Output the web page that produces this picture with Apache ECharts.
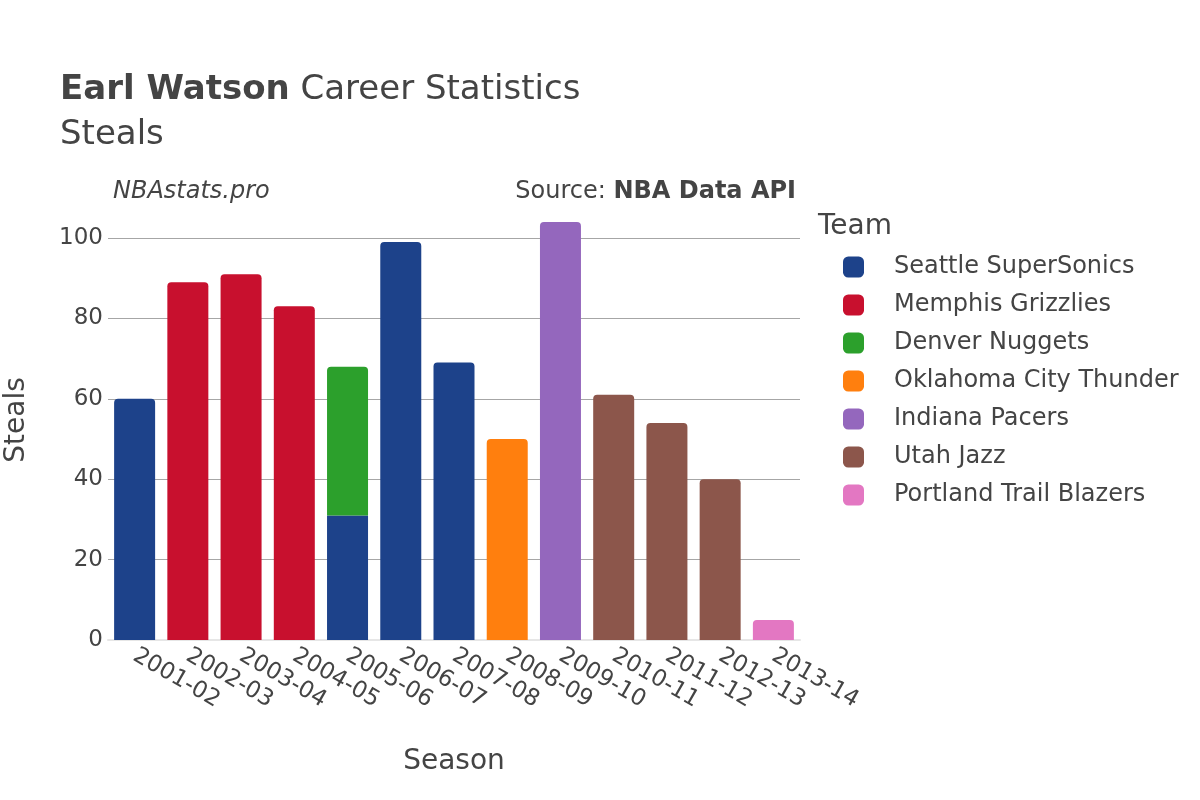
<!DOCTYPE html>
<html>
<head>
<meta charset="utf-8">
<script src="https://cdn.jsdelivr.net/npm/echarts@6/dist/echarts.min.js"></script>
<style>html,body{margin:0;padding:0;background:#fff}#c{width:1200px;height:800px}</style>
</head>
<body>
<div id="c"></div>
<script>
var seasons = ['2001-02','2002-03','2003-04','2004-05','2005-06','2006-07','2007-08','2008-09','2009-10','2010-11','2011-12','2012-13','2013-14'];
var teams = ['Seattle SuperSonics','Memphis Grizzlies','Denver Nuggets','Oklahoma City Thunder','Indiana Pacers','Utah Jazz','Portland Trail Blazers'];
var teamColors = ['#1d428a','#c8102e','#2ca02c','#ff7f0e','#9467bd','#8c564b','#e377c2'];
var seattle  = [60, null, null, null, 31, 99, 69, null, null, null, null, null, null];
var memphis  = [null, 89, 91, 83, null, null, null, null, null, null, null, null, null];
var denver   = [null, null, null, null, 37, null, null, null, null, null, null, null, null];
var okc      = [null, null, null, null, null, null, null, 50, null, null, null, null, null];
var indiana  = [null, null, null, null, null, null, null, null, 104, null, null, null, null];
var utah     = [null, null, null, null, null, null, null, null, null, 61, 54, 40, null];
var portland = [null, null, null, null, null, null, null, null, null, null, null, null, 5];
var yTicks = [0, 20, 40, 60, 80, 100];

var seriesData = [seattle, memphis, denver, okc, indiana, utah, portland];
var FONT = 'DejaVu Sans';

var topIdx = seasons.map(function(_, i){
  var t = -1;
  seriesData.forEach(function(arr, s){ if (arr[i] != null) t = s; });
  return t;
});

var series = teams.map(function(name, s){
  return {
    name: name,
    type: 'bar',
    stack: 'total',
    barWidth: 41,
    clip: false,
    itemStyle: { color: teamColors[s] },
    data: seriesData[s].map(function(v, i){
      if (v == null) return null;
      return { value: v, itemStyle: { borderRadius: topIdx[i] === s ? [4,4,0,0] : 0 } };
    })
  };
});

var chart = echarts.init(document.getElementById('c'));
chart.setOption({
  animation: false,
  textStyle: { fontFamily: FONT },
  grid: { left: 108, right: 400, top: 238, bottom: 160, containLabel: false },
  xAxis: {
    type: 'category',
    data: seasons,
    axisLine: { show: true, lineStyle: { color: '#e6e6e6', width: 2 } },
    axisTick: { show: false },
    axisLabel: { rotate: -30, fontSize: 23, color: '#444', fontFamily: FONT, margin: 14, interval: 0 },
    name: 'Season',
    nameLocation: 'middle',
    nameGap: 108,
    nameTextStyle: { fontSize: 28, color: '#444', fontFamily: FONT }
  },
  yAxis: {
    type: 'value',
    min: yTicks[0],
    max: yTicks[yTicks.length - 1],
    interval: 20,
    axisLine: { show: false },
    axisTick: { show: false },
    splitLine: { lineStyle: { color: '#a6a6a6', width: 1 } },
    axisLabel: { fontSize: 23, color: '#444', fontFamily: FONT, margin: 5 }
  },
  legend: {
    orient: 'vertical',
    left: 843,
    top: 255,
    padding: 0,
    itemWidth: 21,
    itemHeight: 21,
    itemGap: 14,
    icon: 'roundRect',
    data: teams,
    textStyle: { fontSize: 24, lineHeight: 24, color: '#444', fontFamily: FONT, padding: [0,0,0,25] }
  },
  graphic: [
    { type: 'text', left: 60, top: 73, style: { text: '{b|Earl Watson} Career Statistics', font: '34px "DejaVu Sans"', fill: '#444',
      rich: { b: { fontWeight: 'bold', fontSize: 34, fontFamily: FONT, fill: '#444' } } } },
    { type: 'text', left: 60, top: 118, style: { text: 'Steals', font: '34px "DejaVu Sans"', fill: '#444' } },
    { type: 'text', left: 113, top: 180, style: { text: 'NBAstats.pro', font: 'italic 24px "DejaVu Sans"', fill: '#444' } },
    { type: 'text', right: 404, top: 180, style: { text: 'Source: {b|NBA Data API}', font: '24px "DejaVu Sans"', fill: '#444',
      rich: { b: { fontWeight: 'bold', fontSize: 24, fontFamily: FONT, fill: '#444' } } } },
    { type: 'text', left: 818, top: 213, style: { text: 'Team', font: '28px "DejaVu Sans"', fill: '#444' } },
    { type: 'text', x: 17, y: 420, rotation: Math.PI / 2, style: { text: 'Steals', font: '28px "DejaVu Sans"', fill: '#444', textAlign: 'center', textVerticalAlign: 'middle' } }
  ],
  series: series
});
</script>
</body>
</html>
